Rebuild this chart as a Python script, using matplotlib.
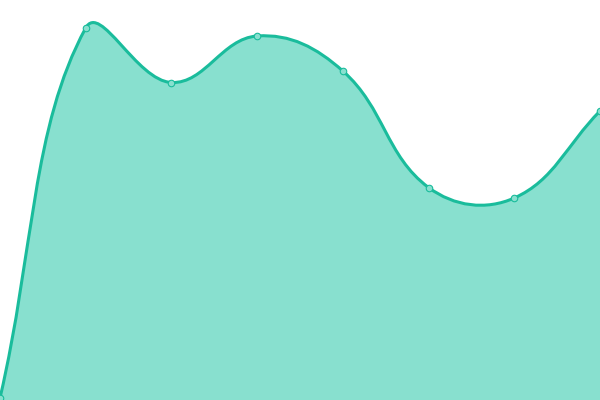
import numpy as np
import matplotlib
matplotlib.use("Agg")
from matplotlib import pyplot as plt
from matplotlib.path import Path
from matplotlib.patches import PathPatch

# ======= Data =====================================================
x_values = [0, 1, 2, 3, 4, 5, 6, 7]
y_values = [2, 372, 317.5, 364, 329, 212.5, 202, 289]

LINE_COLOR = "#1abc9c"
FILL_COLOR = "#88e0cf"
SMOOTH = 0.4
# ==================================================================


def smooth_path_vertices(px, py, smooth):
    """ECharts風のベジェ制御点を計算"""
    n = len(px)
    cps = []
    for i in range(n):
        prev_i = max(i - 1, 0)
        next_i = min(i + 1, n - 1)
        vx = px[next_i] - px[prev_i]
        vy = py[next_i] - py[prev_i]
        d0 = np.hypot(px[i] - px[prev_i], py[i] - py[prev_i])
        d1 = np.hypot(px[next_i] - px[i], py[next_i] - py[i])
        ratio = d1 / (d0 + d1) if d0 + d1 > 0 else 0.5
        cp_in = (px[i] - vx * smooth * (1 - ratio), py[i] - vy * smooth * (1 - ratio))
        cp_out = (px[i] + vx * smooth * ratio, py[i] + vy * smooth * ratio)
        cps.append((cp_in, cp_out))

    verts = [(px[0], py[0])]
    codes = [Path.MOVETO]
    for i in range(1, n):
        verts += [cps[i - 1][1], cps[i][0], (px[i], py[i])]
        codes += [Path.CURVE4] * 3
    return verts, codes


def main() -> None:
    fig = plt.figure(figsize=(6, 4), dpi=100)
    ax = fig.add_axes([0, 0, 1, 1])
    ax.set_xlim(0, 7)
    ax.set_ylim(0, 400)
    ax.axis("off")

    # ピクセル座標で平滑化 (x間隔をピクセルに合わせる)
    sx = 600 / 7
    px = [x * sx for x in x_values]
    verts, codes = smooth_path_vertices(px, y_values, SMOOTH)
    verts = [(vx / sx, vy) for vx, vy in verts]

    fill_verts = verts + [(x_values[-1], 0), (x_values[0], 0), verts[0]]
    fill_codes = codes + [Path.LINETO, Path.LINETO, Path.CLOSEPOLY]
    ax.add_patch(PathPatch(Path(fill_verts, fill_codes), facecolor=FILL_COLOR,
                           edgecolor="none"))
    ax.add_patch(PathPatch(Path(verts, codes), facecolor="none",
                           edgecolor=LINE_COLOR, linewidth=2.2))

    ax.scatter(x_values, y_values, s=22, facecolor=FILL_COLOR, edgecolor=LINE_COLOR,
               linewidth=0.8, zorder=3, clip_on=False)

    fig.savefig("out.png", dpi=100)
    plt.close(fig)


if __name__ == "__main__":
    main()
